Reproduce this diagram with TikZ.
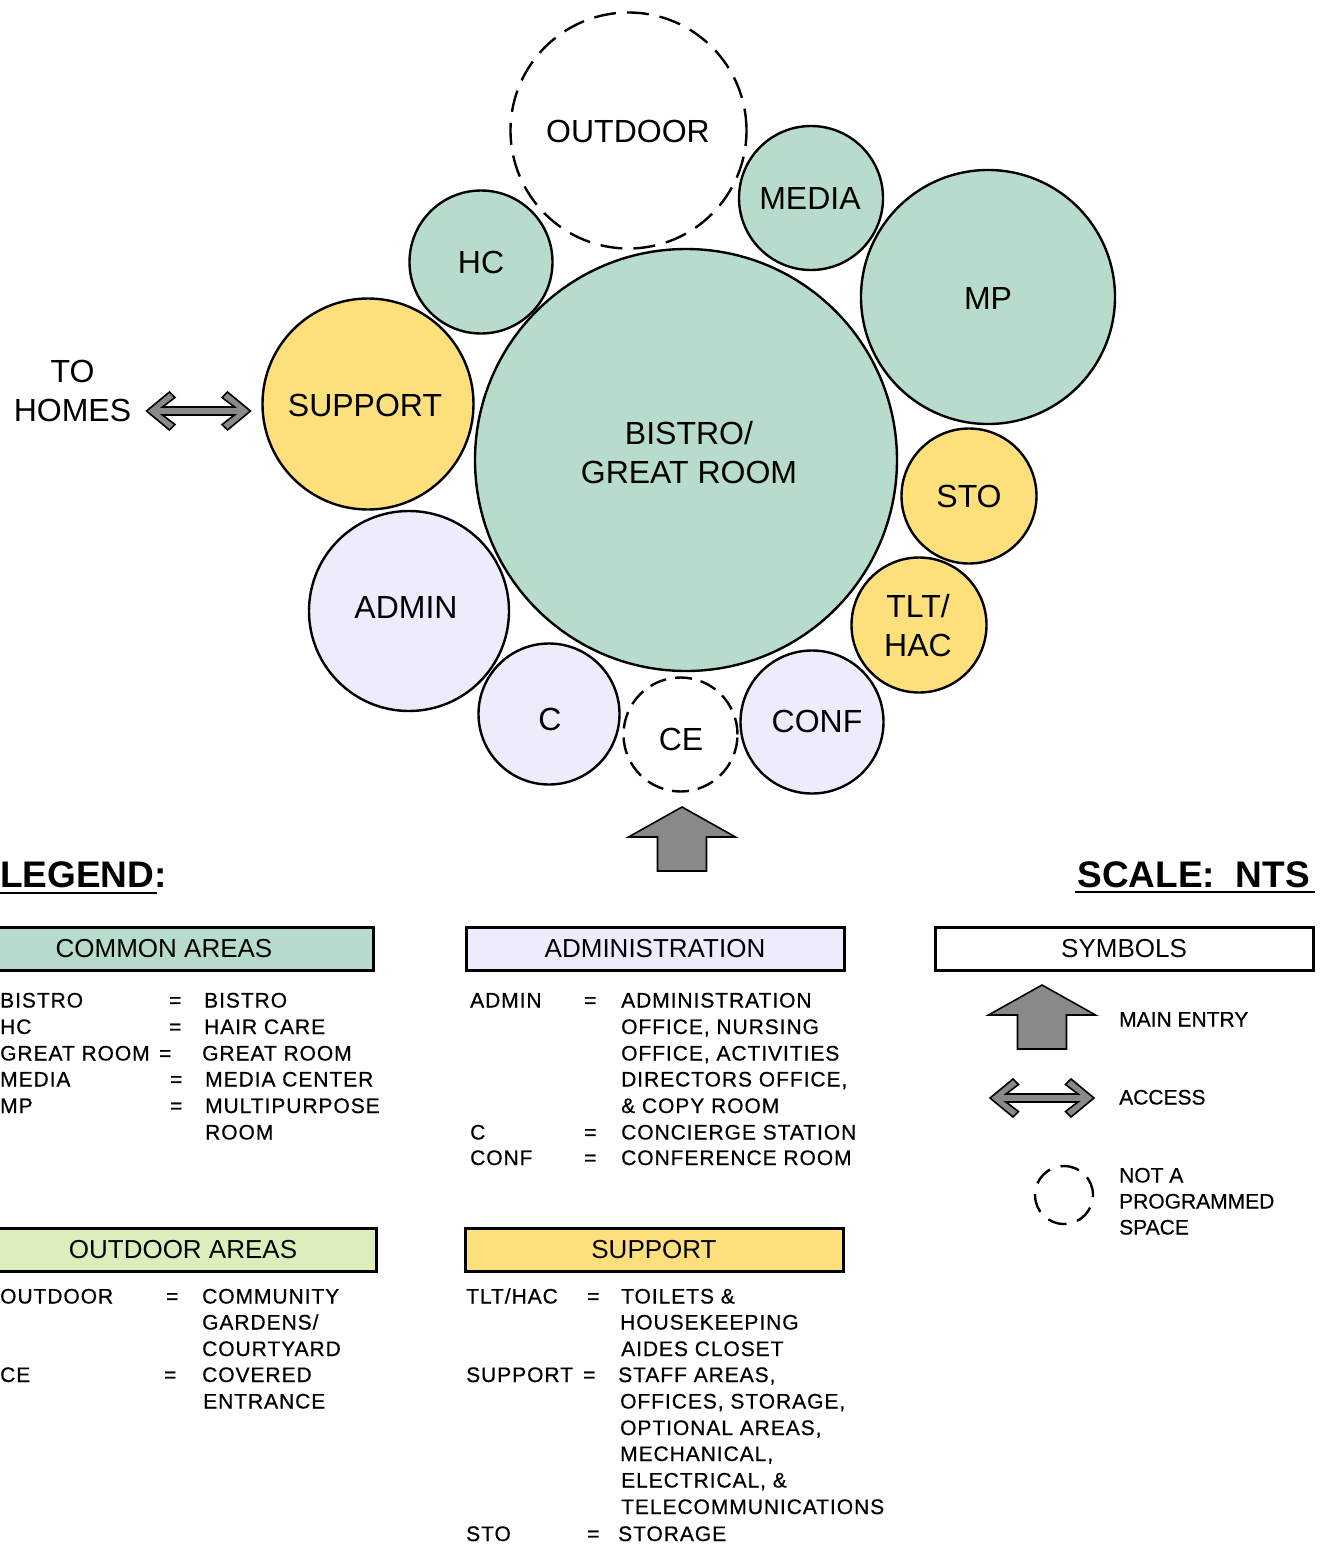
\documentclass[tikz,border=0pt]{standalone}
\usepackage{fontspec}
\setmainfont{Liberation Sans}
\newfontfamily\itemfont[LetterSpace=4.5,FakeBold=0.6]{Liberation Sans}
\newfontfamily\symfont[FakeBold=0.5]{Liberation Sans}
\definecolor{mint}{HTML}{B8DCCB}
\definecolor{sun}{HTML}{FDDF7B}
\definecolor{lav}{HTML}{EEEBFC}
\definecolor{sage}{HTML}{DDEEBD}
\definecolor{arrowgray}{HTML}{898989}

\begin{document}
\begin{tikzpicture}[x=1pt,y=-1pt,
  room/.style={circle, draw=black, line width=2.4pt, inner sep=0pt, minimum size=#1},
  openroom/.style={room=#1, dash pattern=on 22pt off 11pt},
  roomtext/.style={font=\fontsize{32}{39}\selectfont, align=center, inner sep=0pt},
  hdr/.style={draw=black, line width=3pt, inner sep=0pt, minimum height=43pt,
              font=\fontsize{26}{30}\selectfont},
  item/.style={anchor=base west, inner sep=0pt, font=\itemfont\fontsize{21}{26}\selectfont},
  sym/.style={anchor=base west, inner sep=0pt, font=\symfont\fontsize{21}{26}\selectfont},
  title/.style={inner sep=0pt, font=\bfseries\fontsize{37}{42}\selectfont},
  arrowshape/.style={draw=black, line width=1.6pt, fill=arrowgray, line join=miter},
  dblarrow/.pic={\draw[arrowshape] (-52,0) -- (-29,-19) -- (-23.5,-13.5) -- (-36,-4)
      -- (36,-4) -- (23.5,-13.5) -- (29,-19) -- (52,0) -- (29,19) -- (23.5,13.5)
      -- (36,4) -- (-36,4) -- (-23.5,13.5) -- (-29,19) -- cycle;},
  entryarrow/.pic={\draw[arrowshape] (0,0) -- (53.5,30) -- (24.5,30) -- (24.5,64)
      -- (-24.5,64) -- (-24.5,30) -- (-53.5,30) -- cycle;}
]
\useasboundingbox (0,0) rectangle (1328,1545);

% ---------- bubble diagram ----------
\node[room=422, fill=mint] (bistro) at (686,460) {};
\node[openroom=236] (outdoor) at (628.5,130.5) {};
\node[room=144, fill=mint] (media) at (811,198) {};
\node[room=143, fill=mint] (hc) at (481,262) {};
\node[room=254, fill=mint] (mp) at (988,297) {};
\node[room=211, fill=sun] (support) at (368,404) {};
\node[room=135, fill=sun] (sto) at (969,496) {};
\node[room=135, fill=sun] (tlt) at (919,625) {};
\node[room=200, fill=lav] (admin) at (409,611) {};
\node[room=141, fill=lav] (c) at (549,714) {};
\node[openroom=114, dash pattern=on 17pt off 9pt] (ce) at (680.5,734.5) {};
\node[room=143, fill=lav] (conf) at (812,722) {};

\node[roomtext] (bistro-t) at (689,453) {BISTRO/\\GREAT ROOM};
\node[roomtext] (outdoor-t) at (628,131) {OUTDOOR};
\node[roomtext] (media-t) at (810,198) {MEDIA};
\node[roomtext] (hc-t) at (481,262) {HC};
\node[roomtext] (mp-t) at (988,298) {MP};
\node[roomtext] (support-t) at (365,405) {SUPPORT};
\node[roomtext] (sto-t) at (969,496) {STO};
\node[roomtext] (tlt-t) at (918,625.5) {TLT/\\HAC};
\node[roomtext] (admin-t) at (406,607) {ADMIN};
\node[roomtext] (c-t) at (550,719) {C};
\node[roomtext] (ce-t) at (681,739) {CE};
\node[roomtext] (conf-t) at (817,721) {CONF};

% access to the homes and the main entry
\node[roomtext] (homes) at (72.5,390.5) {TO\\HOMES};
\pic at (198.5,411) {dblarrow};
\pic at (682,807) {entryarrow};

% ---------- titles ----------
\node[title, anchor=base west] (legend) at (0,887) {LEGEND:};
\draw[line width=2.5pt] (0,893) -- (157,893);
\node[title, anchor=base east] (scale) at (1310,887) {SCALE:\ \ NTS};
\draw[line width=2.5pt] (1075,892) -- (1315,892);

% ---------- legend headers ----------
\node[hdr, fill=mint, minimum width=418] (common) at (164,948.5) {COMMON AREAS};
\node[hdr, fill=lav, minimum width=378] (adminbox) at (655,949) {ADMINISTRATION};
\node[hdr, fill=white, minimum width=378] (symbols) at (1124,948.5) {SYMBOLS};
\node[hdr, fill=sage, minimum width=386] (outbox) at (183,1250) {OUTDOOR AREAS};
\node[hdr, fill=sun, minimum width=378] (suppbox) at (654,1250) {SUPPORT};

% ---------- common areas ----------
\node[item] (ca1) at (0,1007.5) {BISTRO};
\node[item] (ca1e) at (169,1007.5) {=};
\node[item] (ca1d) at (204,1007.5) {BISTRO};
\node[item] (ca2) at (0,1034) {HC};
\node[item] (ca2e) at (169,1034) {=};
\node[item] (ca2d) at (204,1034) {HAIR CARE};
\node[item] (ca3) at (0,1060.5) {GREAT ROOM};
\node[item] (ca3e) at (159,1060.5) {=};
\node[item] (ca3d) at (202,1060.5) {GREAT ROOM};
\node[item] (ca4) at (0,1086.5) {MEDIA};
\node[item] (ca4e) at (170,1086.5) {=};
\node[item] (ca4d) at (205,1086.5) {MEDIA CENTER};
\node[item] (ca5) at (0,1113) {MP};
\node[item] (ca5e) at (170,1113) {=};
\node[item] (ca5d) at (205,1113) {MULTIPURPOSE};
\node[item] (ca6d) at (205,1139.5) {ROOM};

% ---------- administration ----------
\node[item] (ad1) at (470,1007.5) {ADMIN};
\node[item] (ad1e) at (584,1007.5) {=};
\node[item] (ad1d) at (621,1007.5) {ADMINISTRATION};
\node[item] (ad2d) at (621,1034) {OFFICE, NURSING};
\node[item] (ad3d) at (621,1060.5) {OFFICE, ACTIVITIES};
\node[item] (ad4d) at (621,1086.5) {DIRECTORS OFFICE,};
\node[item] (ad5d) at (621,1113) {\& COPY ROOM};
\node[item] (ad6) at (470,1139.5) {C};
\node[item] (ad6e) at (584,1139.5) {=};
\node[item] (ad6d) at (621,1139.5) {CONCIERGE STATION};
\node[item] (ad7) at (470,1165) {CONF};
\node[item] (ad7e) at (584,1165) {=};
\node[item] (ad7d) at (621,1165) {CONFERENCE ROOM};

% ---------- outdoor areas ----------
\node[item] (od1) at (0,1303.5) {OUTDOOR};
\node[item] (od1e) at (166,1303.5) {=};
\node[item] (od1d) at (202,1303.5) {COMMUNITY};
\node[item] (od2d) at (202,1329.5) {GARDENS/};
\node[item] (od3d) at (202,1356) {COURTYARD};
\node[item] (od4) at (0,1382) {CE};
\node[item] (od4e) at (164,1382) {=};
\node[item] (od4d) at (202,1382) {COVERED};
\node[item] (od5d) at (203,1408.5) {ENTRANCE};

% ---------- support ----------
\node[item] (sp1) at (466,1303.5) {TLT/HAC};
\node[item] (sp1e) at (587,1303.5) {=};
\node[item] (sp1d) at (621,1303.5) {TOILETS \&};
\node[item] (sp2d) at (620,1329.5) {HOUSEKEEPING};
\node[item] (sp3d) at (621,1356) {AIDES CLOSET};
\node[item] (sp4) at (466,1382) {SUPPORT};
\node[item] (sp4e) at (583,1382) {=};
\node[item] (sp4d) at (618,1382) {STAFF AREAS,};
\node[item] (sp5d) at (620,1408.5) {OFFICES, STORAGE,};
\node[item] (sp6d) at (620,1435) {OPTIONAL AREAS,};
\node[item] (sp7d) at (620,1461) {MECHANICAL,};
\node[item] (sp8d) at (621,1487.5) {ELECTRICAL, \&};
\node[item] (sp9d) at (621,1514) {TELECOMMUNICATIONS};
\node[item] (sp10) at (466,1541) {STO};
\node[item] (sp10e) at (587,1541) {=};
\node[item] (sp10d) at (618,1541) {STORAGE};

% ---------- symbols ----------
\pic at (1042,985) {entryarrow};
\node[sym] (sy1) at (1119,1026.5) {MAIN ENTRY};
\pic at (1042,1098) {dblarrow};
\node[sym] (sy2) at (1119,1104.5) {ACCESS};
\node[room=58, dash pattern=on 19pt off 11pt] (sy3c) at (1064,1195) {};
\node[sym] (sy3a) at (1119,1182.5) {NOT A};
\node[sym] (sy3b) at (1119,1208.5) {PROGRAMMED};
\node[sym] (sy3d) at (1119,1234.5) {SPACE};
\end{tikzpicture}
\end{document}
